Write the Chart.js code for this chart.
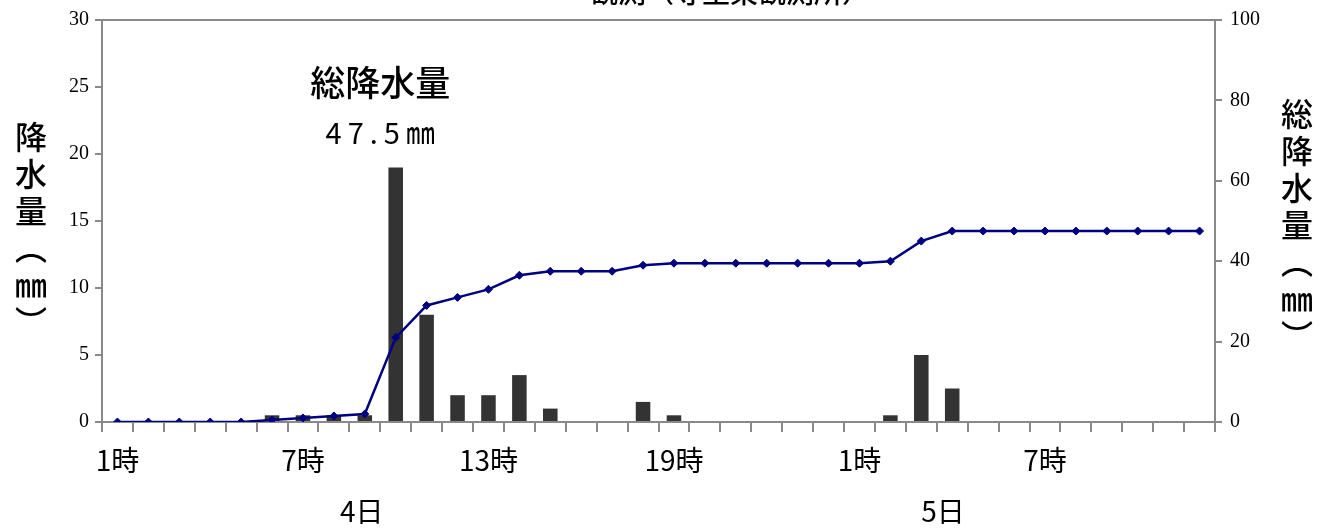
<!DOCTYPE html>
<html>
<head>
<meta charset="utf-8">
<script src="https://cdn.jsdelivr.net/npm/chart.js@4.4.0/dist/chart.umd.min.js"></script>
<style>
  html, body { margin: 0; padding: 0; background: #fff; }
  canvas { display: block; }
</style>
</head>
<body>
<canvas id="rainChart" width="1326" height="528"></canvas>
<script>
// hourly categories, 4日 1時 .. 5日 12時
var hourLabels = [
  '1時','2時','3時','4時','5時','6時','7時','8時','9時','10時','11時','12時',
  '13時','14時','15時','16時','17時','18時','19時','20時','21時','22時','23時','24時',
  '1時','2時','3時','4時','5時','6時','7時','8時','9時','10時','11時','12時'
];
// hourly rainfall (mm), left axis
var hourlyRain = [
  0, 0, 0, 0, 0, 0.5, 0.5, 0.5, 0.5, 19, 8, 2,
  2, 3.5, 1, 0, 0, 1.5, 0.5, 0, 0, 0, 0, 0,
  0, 0.5, 5, 2.5, 0, 0, 0, 0, 0, 0, 0, 0
];
// total rainfall (mm), right axis
var totalRain = [
  0, 0, 0, 0, 0, 0.5, 1, 1.5, 2, 21, 29, 31,
  33, 36.5, 37.5, 37.5, 37.5, 39, 39.5, 39.5, 39.5, 39.5, 39.5, 39.5,
  39.5, 40, 45, 47.5, 47.5, 47.5, 47.5, 47.5, 47.5, 47.5, 47.5, 47.5
];
var leftTicks = { min: 0, max: 30, step: 5 };
var rightTicks = { min: 0, max: 100, step: 20 };
var dayLabels = [{ text: '4日', at: 7.9 }, { text: '5日', at: 26.7 }];

var axisGray = '#898989';
var cjk = "'Noto Sans CJK JP', 'Noto Sans', sans-serif";

// draws a vertical (stacked) title
function drawVertical(ctx, chars, x, yStart, step, size) {
  ctx.save();
  ctx.fillStyle = '#000';
  ctx.textAlign = 'center';
  ctx.textBaseline = 'middle';
  ctx.font = '500 ' + size + 'px ' + cjk;
  chars.forEach(function (c, i) {
    ctx.fillText(c, x, yStart + i * step);
  });
  ctx.restore();
}

var extras = {
  id: 'extras',
  afterDraw: function (chart) {
    var ctx = chart.ctx;
    var area = chart.chartArea;
    var xs = chart.scales.x;
    var ys = chart.scales.y;

    // top border of the plot area
    ctx.save();
    ctx.strokeStyle = axisGray;
    ctx.lineWidth = 2;
    ctx.beginPath();
    ctx.moveTo(area.left - 1, area.top);
    ctx.lineTo(area.right + 1, area.top);
    ctx.stroke();
    ctx.restore();

    // cropped title at the very top
    ctx.save();
    ctx.fillStyle = '#000';
    ctx.textAlign = 'center';
    ctx.textBaseline = 'alphabetic';
    ctx.font = '500 28px ' + cjk;
    ctx.fillText('観測（寺生東観測所）', 730, 3);
    ctx.restore();

    // day labels under hour labels
    ctx.save();
    ctx.fillStyle = '#000';
    ctx.textAlign = 'center';
    ctx.textBaseline = 'middle';
    ctx.font = '28px ' + cjk;
    dayLabels.forEach(function (d) {
      ctx.fillText(d.text, xs.getPixelForValue(d.at), 511);
    });
    ctx.restore();

    // total rainfall note
    ctx.save();
    ctx.fillStyle = '#000';
    ctx.textAlign = 'center';
    ctx.textBaseline = 'middle';
    ctx.font = '500 35px ' + cjk;
    var cx = xs.getPixelForValue(8.5);
    ctx.fillText('総降水量', cx, ys.getPixelForValue(25.3));
    ctx.font = '29px ' + cjk;
    ctx.letterSpacing = '6px';
    ctx.fillText('47.5㎜', cx + 3, ys.getPixelForValue(21.6));
    ctx.restore();

    // axis titles
    drawVertical(ctx, ['降', '水', '量', '︵', '㎜', '︶'], 31, 137, 37, 32);
    drawVertical(ctx, ['総', '降', '水', '量', '︵', '㎜', '︶'], 1297, 114, 37, 32);
  }
};

var ctx = document.getElementById('rainChart').getContext('2d');
new Chart(ctx, {
  type: 'bar',
  data: {
    labels: hourLabels,
    datasets: [{
      type: 'line',
      label: '総降水量',
      data: totalRain,
      yAxisID: 'y2',
      borderColor: '#000080',
      backgroundColor: '#000080',
      borderWidth: 2.5,
      pointStyle: 'rectRot',
      pointRadius: 4,
      pointBorderWidth: 1,
      tension: 0,
      order: 0
    }, {
      type: 'bar',
      label: '降水量',
      data: hourlyRain,
      yAxisID: 'y',
      backgroundColor: '#333333',
      categoryPercentage: 1,
      barPercentage: 0.47,
      order: 1
    }]
  },
  options: {
    responsive: false,
    animation: false,
    layout: { padding: { top: 17, left: 0, right: 0, bottom: 0 } },
    plugins: {
      legend: { display: false },
      tooltip: { enabled: false }
    },
    scales: {
      x: {
        offset: true,
        afterFit: function (s) { s.height = 106; },
        grid: {
          offset: true,
          drawOnChartArea: false,
          tickLength: 10,
          color: axisGray,
          lineWidth: 2
        },
        border: { color: axisGray, width: 2 },
        ticks: {
          autoSkip: false,
          maxRotation: 0,
          padding: 12,
          color: '#000',
          font: { family: cjk, size: 28 },
          callback: function (v, i) { return i % 6 === 0 ? hourLabels[i] : ''; }
        }
      },
      y: {
        position: 'left',
        min: leftTicks.min,
        max: leftTicks.max,
        afterFit: function (s) { s.width = 102; },
        grid: {
          drawOnChartArea: false,
          tickLength: 7,
          color: axisGray,
          lineWidth: 2
        },
        border: { color: axisGray, width: 2 },
        ticks: {
          stepSize: leftTicks.step,
          padding: 6,
          color: '#000',
          font: { family: "'Liberation Serif', serif", size: 20 }
        }
      },
      y2: {
        position: 'right',
        min: rightTicks.min,
        max: rightTicks.max,
        afterFit: function (s) { s.width = 111; },
        grid: {
          drawOnChartArea: false,
          tickLength: 7,
          color: axisGray,
          lineWidth: 2
        },
        border: { color: axisGray, width: 2 },
        ticks: {
          stepSize: rightTicks.step,
          padding: 8,
          color: '#000',
          font: { family: "'Liberation Serif', serif", size: 20 }
        }
      }
    }
  },
  plugins: [extras]
});
</script>
</body>
</html>
